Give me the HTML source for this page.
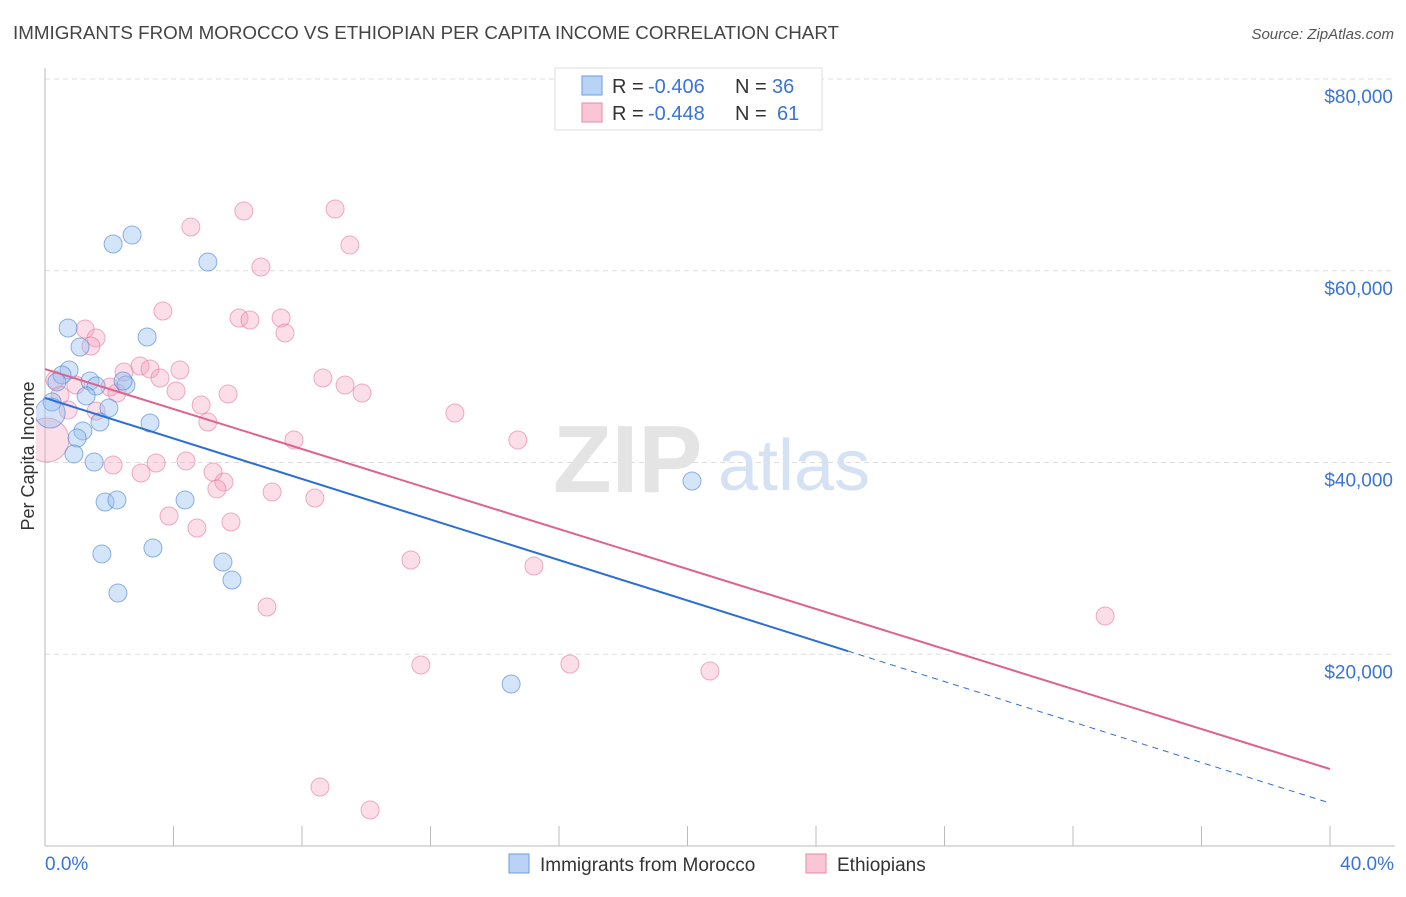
<!DOCTYPE html>
<html><head><meta charset="utf-8"><style>
body{margin:0;background:#fff;font-family:"Liberation Sans",sans-serif;}
svg text{font-family:"Liberation Sans",sans-serif;}
</style></head><body>
<svg id="chart" width="1406" height="892" viewBox="0 0 1406 892" xmlns="http://www.w3.org/2000/svg">
<defs><clipPath id="plotclip"><rect x="36" y="60" width="1370" height="790"/></clipPath></defs>
<text x="13" y="39" font-size="18" fill="#444" textLength="826" lengthAdjust="spacingAndGlyphs">IMMIGRANTS FROM MOROCCO VS ETHIOPIAN PER CAPITA INCOME CORRELATION CHART</text>
<text x="1394" y="39" font-size="15" fill="#555" font-style="italic" text-anchor="end">Source: ZipAtlas.com</text>
<g id="grid"></g>
<g id="axes"></g>
<text x="553" y="492" font-size="96" fill="#e4e4e4" font-family="Liberation Serif" font-weight="bold">ZIP</text>
<text x="718" y="490" font-size="72" fill="#d5e2f4">atlas</text>
<g id="marks" clip-path="url(#plotclip)"></g>
<text transform="translate(34,456) rotate(-90)" font-size="18" fill="#333" text-anchor="middle">Per Capita Income</text>
<g>
<rect x="555" y="68" width="267" height="62" fill="#fff" stroke="#ddd"/>
<rect x="582" y="76" width="20" height="19" fill="#b9d3f5" stroke="#6a9de0"/>
<rect x="582" y="103" width="20" height="19" fill="#f9c6d6" stroke="#e88aa8"/>
<text x="612" y="93" font-size="20" fill="#333">R =</text>
<text x="648" y="93" font-size="20" fill="#3a74d8">-0.406</text>
<text x="735" y="93" font-size="20" fill="#333">N =</text>
<text x="772" y="93" font-size="20" fill="#3a74d8">36</text>
<text x="612" y="120" font-size="20" fill="#333">R =</text>
<text x="648" y="120" font-size="20" fill="#3a74d8">-0.448</text>
<text x="735" y="120" font-size="20" fill="#333">N =</text>
<text x="777" y="120" font-size="20" fill="#3a74d8">61</text>
</g>
<g>
<rect x="509" y="854" width="20" height="19" fill="#b9d3f5" stroke="#6a9de0"/>
<text x="540" y="871" font-size="19" fill="#333">Immigrants from Morocco</text>
<rect x="806" y="854" width="20" height="19" fill="#f9c6d6" stroke="#e88aa8"/>
<text x="837" y="871" font-size="19" fill="#333">Ethiopians</text>
</g>
</svg>
<script>
const yTicks=[20000,40000,60000,80000];
const yTickLabels=["$20,000","$40,000","$60,000","$80,000"];
const xTickLabels=["0.0%","40.0%"];
const blueX=[2.12,2.71,5.07,0.72,3.18,1.09,0.75,0.53,0.37,1.40,2.52,1.59,2.43,0.22,1.28,1.99,1.71,3.27,1.18,1.00,0.90,1.53,1.87,2.24,4.36,3.36,1.77,5.54,5.82,2.27,20.14,14.51,0.16];
const blueY=[62790,63730,60910,54030,53090,52050,49650,49130,48400,48500,48080,47980,48500,46310,46940,45680,44220,44120,43290,42550,40890,40050,35880,36090,36090,31080,30460,29620,27740,26390,38070,16900,45160];
const blueR=[9,9,9,9,9,9,9,9,9,9,9,9,9,9,9,9,9,9,9,9,9,9,9,9,9,9,9,9,9,9,9,9,15];
const pinkX=[4.54,6.19,9.03,9.49,6.72,3.67,6.04,6.38,7.35,1.25,7.47,1.59,1.43,2.96,2.46,3.27,4.20,3.58,8.65,0.96,9.34,2.02,4.08,2.24,5.70,9.87,4.86,1.59,0.72,5.07,12.76,7.75,14.72,2.12,3.46,4.39,2.99,5.23,5.57,5.35,7.07,8.40,3.86,4.73,5.79,11.39,15.22,6.91,33.0,11.70,16.34,20.70,8.56,10.12,0.06,0.47,0.31];
const pinkY=[64560,66230,66440,62680,60390,55800,55070,54860,55070,53920,53510,52980,52150,50060,49440,49750,49650,48810,48810,48080,48080,47870,47460,47250,47140,47250,46000,45370,45470,44220,45160,42350,42350,39740,39950,40160,38900,39010,37970,37240,36920,36300,34420,33170,33790,29830,29200,24930,23990,18880,18980,18250,6150,3750,42350,47040,48600];
const pinkR=pinkX.map((v,i)=>i===54?22:9);
const blueTrend=[46730,4480]; const blueSolidEnd=25.0;
const pinkTrend=[49750,8030];
const X=v=>45+(v/40)*1285;
const Y=v=>846-v/20000*191.75;
const NS="http://www.w3.org/2000/svg";
function mk(tag,attrs,parent){const e=document.createElementNS(NS,tag);for(const k in attrs)e.setAttribute(k,attrs[k]);document.getElementById(parent).appendChild(e);return e;}
yTicks.forEach((t,i)=>{
 const l=mk('line',{x1:45,x2:1395,y1:Y(t),y2:Y(t),stroke:'#ddd','stroke-dasharray':'5,4'},'grid');
 
 
 const tx=mk('text',{x:1393,y:Y(t)+24,'font-size':19,fill:'#3a74d8','text-anchor':'end'},'grid');
 tx.textContent=yTickLabels[i];
 
 
});
const ax=mk('line',{x1:45,x2:45,y1:68,y2:846,stroke:'#bbb'},'axes');


const bx=mk('line',{x1:45,x2:1395,y1:846,y2:846,stroke:'#bbb'},'axes');


for(let i=0;i<=10;i++){
 const t=mk('line',{x1:X(i*4),x2:X(i*4),y1:826,y2:846,stroke:'#bbb'},'axes');
 
 
}
[[0,'start',45],[40,'end',1394]].forEach((d,i)=>{
 const t=mk('text',{x:d[2],y:870,'font-size':19,fill:'#3a74d8','text-anchor':d[1]},'axes');
 t.textContent=xTickLabels[i];
 
 
});
pinkX.forEach((x,i)=>{
 const c=mk('circle',{cx:X(x),cy:Y(pinkY[i]),r:pinkR[i],fill:'rgba(244,160,188,0.35)',stroke:'rgba(232,120,156,0.6)'},'marks');
 
 
});
blueX.forEach((x,i)=>{
 const c=mk('circle',{cx:X(x),cy:Y(blueY[i]),r:blueR[i],fill:'rgba(150,190,240,0.4)',stroke:'rgba(70,130,215,0.6)'},'marks');
 
 
});
const by=x=>blueTrend[0]+(blueTrend[1]-blueTrend[0])*x/40;
const b1=mk('line',{x1:X(0),y1:Y(blueTrend[0]),x2:X(blueSolidEnd),y2:Y(by(blueSolidEnd)),stroke:'#2b6fd6','stroke-width':2},'marks');


const b2=mk('line',{x1:X(blueSolidEnd),y1:Y(by(blueSolidEnd)),x2:X(40),y2:Y(blueTrend[1]),stroke:'#2b6fd6','stroke-width':1,'stroke-dasharray':'6,5'},'marks');


const p1=mk('line',{x1:X(0),y1:Y(pinkTrend[0]),x2:X(40),y2:Y(pinkTrend[1]),stroke:'#e0628c','stroke-width':2},'marks');


</script>
</body></html>
